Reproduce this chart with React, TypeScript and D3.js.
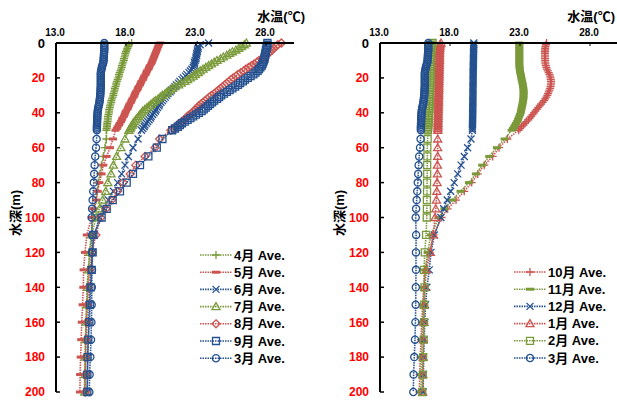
import React from 'react';
import * as d3 from 'd3';

// depth (m) of each observation
const depths = [
  0, 1, 2, 3, 4, 5, 6, 7, 8, 9, 10, 11, 12, 13, 14, 15, 16, 17, 18, 19, 20,
  21, 22, 23, 24, 25, 26, 27, 28, 29, 30, 31, 32, 33, 34, 35, 36, 37, 38, 39, 40,
  41, 42, 43, 44, 45, 46, 47, 48, 49, 50,
  55, 60, 65, 70, 75, 80, 85, 90, 95, 100,
  110, 120, 130, 140, 150, 160, 170, 180, 190, 200,
];

const xTicks = [13, 18, 23, 28];
const yTicks = [0, 20, 40, 60, 80, 100, 120, 140, 160, 180, 200];

// water temperature (deg C), monthly averages
const apr = [
  18.4, 18.2, 18.15, 18.1, 18.05, 18.0, 17.95, 17.95, 17.9, 17.85, 17.85,
  17.8, 17.75, 17.7, 17.7, 17.65, 17.6, 17.55, 17.5, 17.5, 17.45,
  17.4, 17.35, 17.3, 17.3, 17.25, 17.2, 17.2, 17.15, 17.1, 17.1,
  17.05, 17.0, 16.95, 16.95, 16.9, 16.85, 16.85, 16.8, 16.8, 16.78,
  16.75, 16.72, 16.7, 16.7, 16.68, 16.66, 16.65, 16.64, 16.62, 16.6,
  16.6, 16.5, 16.38, 16.26, 16.14, 16.02, 15.95, 15.86, 15.75, 15.67,
  15.5, 15.4, 15.3, 15.22, 15.18, 15.14, 15.1, 15.07, 15.05, 15.03,
];
const may = [
  20.45, 20.35, 20.3, 20.25, 20.2, 20.15, 20.1, 20.05, 20.0, 19.95, 19.9,
  19.85, 19.8, 19.7, 19.65, 19.6, 19.5, 19.45, 19.4, 19.3, 19.25,
  19.2, 19.1, 19.05, 19.0, 18.9, 18.85, 18.8, 18.7, 18.65, 18.6,
  18.55, 18.45, 18.4, 18.35, 18.25, 18.2, 18.15, 18.1, 18.0, 17.95,
  17.9, 17.85, 17.75, 17.7, 17.65, 17.55, 17.5, 17.4, 17.35, 17.25,
  17.07, 16.86, 16.62, 16.38, 16.26, 16.1, 15.98, 15.86, 15.67, 15.55,
  15.2, 15.07, 14.97, 14.95, 14.9, 14.84, 14.8, 14.76, 14.72, 14.71,
];
const jun = [
  23.9, 23.3, 23.15, 23.15, 23.1, 23.1, 23.05, 23.05, 23.0, 23.0, 22.95,
  22.9, 22.9, 22.85, 22.8, 22.7, 22.6, 22.5, 22.35, 22.25, 22.1,
  22.0, 21.85, 21.75, 21.6, 21.5, 21.4, 21.25, 21.15, 21.0, 20.9,
  20.8, 20.7, 20.6, 20.5, 20.4, 20.35, 20.25, 20.15, 20.1, 20.0,
  19.9, 19.8, 19.75, 19.65, 19.55, 19.45, 19.35, 19.3, 19.2, 19.1,
  18.86, 18.5, 18.17, 17.93, 17.69, 17.4, 17.1, 16.74, 16.43, 16.1,
  15.75, 15.6, 15.5, 15.42, 15.38, 15.33, 15.3, 15.27, 15.25, 15.22,
];
const jul = [
  26.6, 26.45, 26.25, 26.05, 25.85, 25.6, 25.4, 25.2, 24.95, 24.75, 24.5,
  24.3, 24.1, 23.9, 23.7, 23.5, 23.3, 23.15, 22.95, 22.8, 22.6,
  22.4, 22.2, 21.95, 21.75, 21.5, 21.3, 21.15, 20.95, 20.8, 20.6,
  20.45, 20.3, 20.1, 19.95, 19.8, 19.65, 19.5, 19.35, 19.2, 19.1,
  19.0, 18.9, 18.8, 18.7, 18.6, 18.5, 18.45, 18.35, 18.3, 18.2,
  17.93, 17.64, 17.33, 17.1, 16.93, 16.7, 16.55, 16.33, 16.1, 15.86,
  15.55, 15.42, 15.33, 15.25, 15.2, 15.15, 15.12, 15.1, 15.08, 15.05,
];
const aug = [
  29.1, 28.85, 28.7, 28.55, 28.45, 28.3, 28.15, 28.0, 27.85, 27.7, 27.5,
  27.35, 27.15, 26.95, 26.75, 26.55, 26.4, 26.2, 26.0, 25.85, 25.65,
  25.5, 25.35, 25.2, 25.05, 24.9, 24.75, 24.6, 24.45, 24.3, 24.1,
  23.95, 23.8, 23.65, 23.5, 23.35, 23.2, 23.1, 22.95, 22.85, 22.7,
  22.55, 22.4, 22.3, 22.15, 22.0, 21.85, 21.7, 21.6, 21.4, 21.2,
  20.4, 20.07, 19.36, 18.7, 18.3, 17.8, 17.4, 16.98, 16.57, 16.19,
  15.85, 15.55, 15.42, 15.32, 15.26, 15.2, 15.15, 15.12, 15.1, 15.1,
];
const sep = [
  28.1, 28.1, 28.05, 28.05, 28.0, 28.0, 27.95, 27.95, 27.9, 27.9, 27.85,
  27.8, 27.75, 27.7, 27.6, 27.5, 27.4, 27.25, 27.1, 26.9, 26.7,
  26.5, 26.35, 26.15, 26.0, 25.8, 25.6, 25.4, 25.2, 25.0, 24.8,
  24.65, 24.5, 24.3, 24.15, 24.0, 23.85, 23.7, 23.55, 23.4, 23.2,
  23.0, 22.8, 22.6, 22.4, 22.2, 22.0, 21.85, 21.7, 21.5, 21.3,
  20.6, 20.2, 19.6, 19.0, 18.5, 18.05, 17.57, 17.05, 16.62, 16.26,
  15.67, 15.62, 15.55, 15.48, 15.43, 15.38, 15.31, 15.26, 15.24, 15.24,
];
const mar = [
  16.45, 16.45, 16.45, 16.45, 16.45, 16.44, 16.43, 16.42, 16.42, 16.4, 16.4,
  16.38, 16.35, 16.3, 16.27, 16.25, 16.22, 16.2, 16.2, 16.2, 16.2,
  16.2, 16.2, 16.2, 16.2, 16.2, 16.19, 16.18, 16.18, 16.17, 16.16,
  16.15, 16.13, 16.12, 16.1, 16.08, 16.05, 16.02, 16.0, 15.98, 15.97,
  15.96, 15.95, 15.95, 15.94, 15.94, 15.93, 15.93, 15.92, 15.92, 15.92,
  15.9, 15.86, 15.8, 15.76, 15.73, 15.7, 15.66, 15.62, 15.58, 15.55,
  15.58, 15.57, 15.57, 15.56, 15.55, 15.53, 15.5, 15.45, 15.4, 15.38,
];
const oct = [
  24.9, 24.85, 24.82, 24.8, 24.8, 24.78, 24.78, 24.78, 24.78, 24.78, 24.8,
  24.8, 24.82, 24.85, 24.88, 24.92, 24.98, 25.05, 25.1, 25.15, 25.18,
  25.2, 25.22, 25.22, 25.2, 25.18, 25.15, 25.1, 25.05, 25.0, 24.95,
  24.88, 24.8, 24.72, 24.62, 24.5, 24.4, 24.3, 24.2, 24.1, 24.0,
  23.9, 23.8, 23.7, 23.6, 23.45, 23.35, 23.25, 23.1, 23.0, 22.9,
  22.1, 21.5, 21.05, 20.45, 19.98, 19.55, 19.02, 18.43, 17.83, 17.4,
  16.83, 16.52, 16.2, 16.12, 16.05, 15.98, 15.93, 15.88, 15.83, 15.81,
];
const nov = [
  22.95, 22.95, 22.95, 22.95, 22.95, 22.95, 22.95, 22.95, 22.95, 22.95, 22.95,
  22.95, 22.95, 22.96, 22.97, 22.98, 23.0, 23.02, 23.05, 23.07, 23.1,
  23.12, 23.15, 23.18, 23.2, 23.22, 23.24, 23.25, 23.26, 23.26, 23.25,
  23.25, 23.24, 23.22, 23.2, 23.18, 23.15, 23.12, 23.1, 23.07, 23.05,
  23.0, 22.95, 22.9, 22.85, 22.8, 22.72, 22.65, 22.58, 22.5, 22.4,
  21.9, 21.35, 20.8, 20.3, 19.85, 19.35, 18.75, 18.15, 17.6, 17.2,
  16.64, 16.4, 16.24, 16.15, 16.1, 16.05, 16.0, 15.97, 15.95, 15.92,
];
const dec = [
  19.7, 19.7, 19.69, 19.69, 19.69, 19.68, 19.68, 19.68, 19.68, 19.67, 19.67,
  19.67, 19.67, 19.66, 19.66, 19.66, 19.66, 19.65, 19.65, 19.65, 19.65,
  19.65, 19.65, 19.65, 19.65, 19.64, 19.64, 19.64, 19.64, 19.64, 19.64,
  19.64, 19.64, 19.63, 19.63, 19.63, 19.63, 19.63, 19.63, 19.62, 19.62,
  19.62, 19.62, 19.62, 19.62, 19.61, 19.61, 19.61, 19.6, 19.6, 19.6,
  19.5, 19.26, 19.02, 18.79, 18.55, 18.3, 18.05, 17.8, 17.55, 17.35,
  16.88, 16.64, 16.52, 16.35, 16.25, 16.2, 16.15, 16.12, 16.1, 16.08,
];
const jan = [
  17.36, 17.3, 17.28, 17.27, 17.26, 17.26, 17.25, 17.25, 17.25, 17.25, 17.25,
  17.24, 17.24, 17.24, 17.23, 17.23, 17.23, 17.22, 17.22, 17.22, 17.22,
  17.21, 17.21, 17.21, 17.2, 17.2, 17.2, 17.2, 17.19, 17.19, 17.19,
  17.18, 17.18, 17.18, 17.18, 17.17, 17.17, 17.17, 17.16, 17.16, 17.16,
  17.15, 17.15, 17.15, 17.15, 17.14, 17.14, 17.14, 17.14, 17.13, 17.13,
  17.12, 17.12, 17.12, 17.1, 17.1, 17.08, 17.06, 17.03, 16.98, 16.93,
  16.8, 16.6, 16.32, 16.2, 16.15, 16.12, 16.1, 16.08, 16.06, 16.05,
];
const feb = [
  16.76, 16.68, 16.66, 16.65, 16.65, 16.64, 16.64, 16.64, 16.63, 16.63, 16.63,
  16.62, 16.62, 16.62, 16.61, 16.61, 16.61, 16.6, 16.6, 16.6, 16.59,
  16.59, 16.59, 16.58, 16.58, 16.58, 16.57, 16.57, 16.56, 16.56, 16.55,
  16.55, 16.54, 16.54, 16.53, 16.53, 16.52, 16.52, 16.51, 16.5, 16.5,
  16.49, 16.48, 16.48, 16.47, 16.46, 16.45, 16.45, 16.44, 16.43, 16.42,
  16.4, 16.38, 16.38, 16.37, 16.37, 16.36, 16.36, 16.35, 16.35, 16.34,
  16.29, 16.2, 16.14, 16.18, 16.16, 16.15, 16.12, 16.08, 16.06, 16.02,
];

const GREEN = '#7a9a3a';
const RED = '#cc5450';
const BLUE = '#24508f';
const FONT = '"Liberation Sans", Arial, "Noto Sans CJK JP", sans-serif';

type Marker = 'plus' | 'dash' | 'cross' | 'triangle' | 'diamond' | 'square' | 'circle';
type Series = { name: string; values: number[]; color: string; marker: Marker };

const leftSeries: Series[] = [
  { name: '4月Ave.', values: apr, color: GREEN, marker: 'plus' },
  { name: '5月Ave.', values: may, color: RED, marker: 'dash' },
  { name: '6月Ave.', values: jun, color: BLUE, marker: 'cross' },
  { name: '7月Ave.', values: jul, color: GREEN, marker: 'triangle' },
  { name: '8月Ave.', values: aug, color: RED, marker: 'diamond' },
  { name: '9月Ave.', values: sep, color: BLUE, marker: 'square' },
  { name: '3月Ave.', values: mar, color: BLUE, marker: 'circle' },
];
const rightSeries: Series[] = [
  { name: '10月Ave.', values: oct, color: RED, marker: 'plus' },
  { name: '11月Ave.', values: nov, color: GREEN, marker: 'dash' },
  { name: '12月Ave.', values: dec, color: BLUE, marker: 'cross' },
  { name: '1月Ave.', values: jan, color: RED, marker: 'triangle' },
  { name: '2月Ave.', values: feb, color: GREEN, marker: 'square' },
  { name: '3月Ave.', values: mar, color: BLUE, marker: 'circle' },
];

const markerPath: Record<Marker, string> = {
  plus: 'M-4,0H4M0,-4V4',
  dash: 'M-4,0H4',
  cross: 'M-3.5,-3.5L3.5,3.5M-3.5,3.5L3.5,-3.5',
  triangle: 'M0,-4L4,3L-4,3Z',
  diamond: 'M0,-4L4,0L0,4L-4,0Z',
  square: 'M-3.5,-3.5H3.5V3.5H-3.5Z',
  circle: 'M3.6,0A3.6,3.6 0 1,1 -3.6,0A3.6,3.6 0 1,1 3.6,0Z',
};

const MarkerShape = ({ type, color, x, y }: { type: Marker; color: string; x: number; y: number }) => (
  <path
    d={markerPath[type]}
    transform={`translate(${x},${y})`}
    fill="none"
    stroke={color}
    strokeWidth={type === 'dash' ? 3 : 1.3}
  />
);

const Panel = ({ x0, series, legendX, legendY, titleX }: { x0: number; series: Series[]; legendX: number; legendY: number; titleX: number }) => {
  const x = d3.scaleLinear().domain([13, 30]).range([x0, x0 + 238]);
  const y = d3.scaleLinear().domain([0, 200]).range([43, 392]);
  const line = d3.line<number>()
    .x((d) => x(d))
    .y((_, i) => y(depths[i]));

  return (
    <g>
      {series.map((s) => (
        <g key={s.name}>
          <path d={line(s.values) || ''} fill="none" stroke={s.color} strokeWidth={1.6} strokeDasharray="1.5,1" />
          {s.values.map((v, i) => (
            <MarkerShape key={i} type={s.marker} color={s.color} x={x(v)} y={y(depths[i])} />
          ))}
        </g>
      ))}

      {/* axes */}
      <line x1={x0} x2={x0 + 238} y1={y(0)} y2={y(0)} stroke="#000" strokeWidth={2} />
      <line x1={x0} x2={x0} y1={y(0)} y2={y(200)} stroke="#000" strokeWidth={2} />
      {xTicks.map((t) => (
        <g key={t}>
          <line x1={x(t)} x2={x(t)} y1={y(0)} y2={y(0) + 3} stroke="#000" strokeWidth={1} />
          <text x={x(t) - 1} y={36} textAnchor="middle" fontSize={10} fontWeight="bold" fontFamily={FONT}>
            {t.toFixed(1)}
          </text>
        </g>
      ))}
      {yTicks.map((t) => (
        <g key={t}>
          <line x1={x0} x2={x0 + 4} y1={y(t)} y2={y(t)} stroke="#000" strokeWidth={1.5} />
          <text
            x={x0 - 11}
            y={y(t)}
            dy="0.36em"
            textAnchor="end"
            fontSize={t === 0 ? 13 : 12}
            fontWeight="bold"
            fontFamily={FONT}
            fill={t === 0 ? '#000' : '#ff0000'}
          >
            {t}
          </text>
        </g>
      ))}
      <text
        transform={`translate(${x0 - 41},213) rotate(-90)`}
        textAnchor="middle"
        dy="0.36em"
        fontSize={13}
        fontWeight="bold"
        fontFamily={FONT}
      >
        水深(m)
      </text>
      <text x={titleX} y={21} textAnchor="end" fontSize={13} fontWeight="bold" fontFamily={FONT}>
        水温(℃)
      </text>

      {/* legend */}
      {series.map((s, i) => {
        const ly = legendY + i * 17.2;
        return (
          <g key={'lg' + s.name}>
            <line x1={legendX} x2={legendX + 32} y1={ly} y2={ly} stroke={s.color} strokeWidth={1.6} strokeDasharray="1.5,1" />
            <MarkerShape type={s.marker} color={s.color} x={legendX + 16} y={ly} />
            <text x={legendX + 34} y={ly} dy="0.36em" fontSize={13} fontWeight="bold" fontFamily={FONT}>
              {s.name.replace('Ave.', ' Ave.')}
            </text>
          </g>
        );
      })}
    </g>
  );
}

export default function App() {
  return (
    <svg width={617} height={400} style={{ position: 'absolute', left: 0, top: 0, background: '#fff' }}>
      <Panel x0={56} series={leftSeries} legendX={200} legendY={255} titleX={305} />
      <Panel x0={380} series={rightSeries} legendX={514} legendY={272} titleX={615} />
    </svg>
  );
}
